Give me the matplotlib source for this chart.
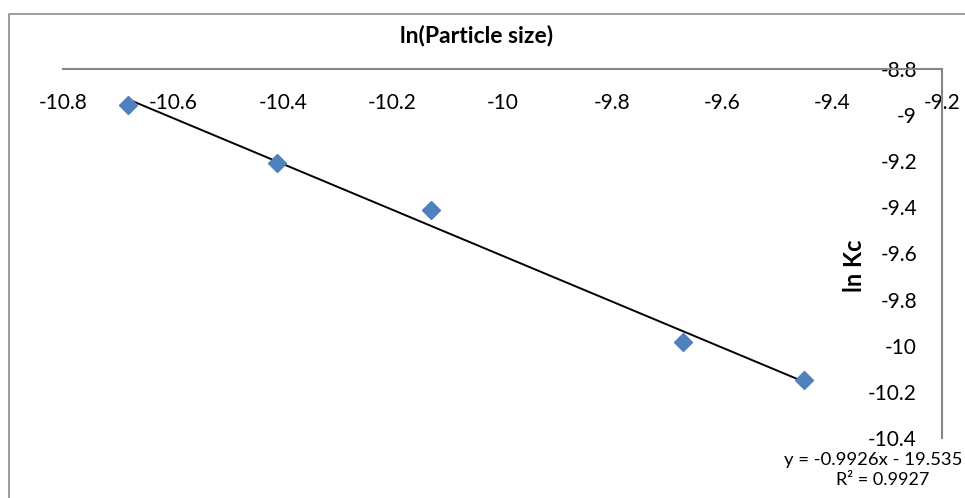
import numpy as np
import matplotlib as mpl
import matplotlib.pyplot as plt
from matplotlib.lines import Line2D

plt.rcParams['font.family'] = ['Lato', 'DejaVu Sans']

# datos
ln_size = [-10.682, -10.41, -10.13, -9.671, -9.451]
ln_kc = [-8.956, -9.208, -9.411, -9.984, -10.148]

x_ticks = [-10.8, -10.6, -10.4, -10.2, -10, -9.8, -9.6, -9.4, -9.2]
y_ticks = [-8.8, -9, -9.2, -9.4, -9.6, -9.8, -10, -10.2, -10.4]

eje_gris = '#868686'
azul = '#4F81BD'

fig = plt.figure(figsize=(9.65, 4.98), dpi=100)
ax = fig.add_axes([63/965, 1-438/498, (942-63)/965, (438-69)/498])

ax.plot(ln_size, ln_kc, linestyle='none', marker='D', ms=9.5, color=azul, zorder=3)

# linea de tendencia
m, b = np.polyfit(ln_size, ln_kc, 1)
xs = np.array([min(ln_size), max(ln_size)])
ax.plot(xs, m*xs + b, color='black', lw=1.4, zorder=2)

ax.set_xlim(-10.8, -9.2)
ax.set_ylim(-10.4, -8.8)
ax.set_xticks(x_ticks)
ax.set_yticks(y_ticks)
ax.set_xticklabels([('%g' % v) for v in x_ticks])
ax.set_yticklabels([('%g' % v) for v in y_ticks])

ax.spines['top'].set_visible(False)
ax.spines['right'].set_visible(False)
ax.spines['bottom'].set_position(('axes', 1.0))
ax.spines['left'].set_position(('axes', 1.0))
for s in ['bottom', 'left']:
    ax.spines[s].set_color(eje_gris)
    ax.spines[s].set_linewidth(1.5)
ax.tick_params(axis='x', length=0, pad=17, labelsize=15)
ax.tick_params(axis='y', length=0, pad=18, labelsize=15)
for lab in ax.get_yticklabels():
    lab.set_horizontalalignment('right')
ax.patch.set_alpha(0)

fig.text(477/965, 1-36/498, 'ln(Particle size)', ha='center', va='center',
         fontsize=16.5, fontweight='bold')
fig.text(855/965, 1-266/498, 'ln Kc', ha='center', va='center', rotation=90,
         fontsize=17, fontweight='bold')

fig.text(962/965, 1-460/498, 'y = %.4fx - %.3f' % (-0.9926, 19.535), ha='right',
         va='center', fontsize=13.3)
fig.text(883/965, 1-480/498, 'R² = 0.9927', ha='center', va='center', fontsize=13)

# borde del area del grafico
fig.add_artist(Line2D([8.5/965, 8.5/965, 1.0], [0, 1-14/498, 1-14/498],
                      transform=fig.transFigure, color='#8c8c8c', lw=1.2))

fig.savefig('out.png', dpi=100)
